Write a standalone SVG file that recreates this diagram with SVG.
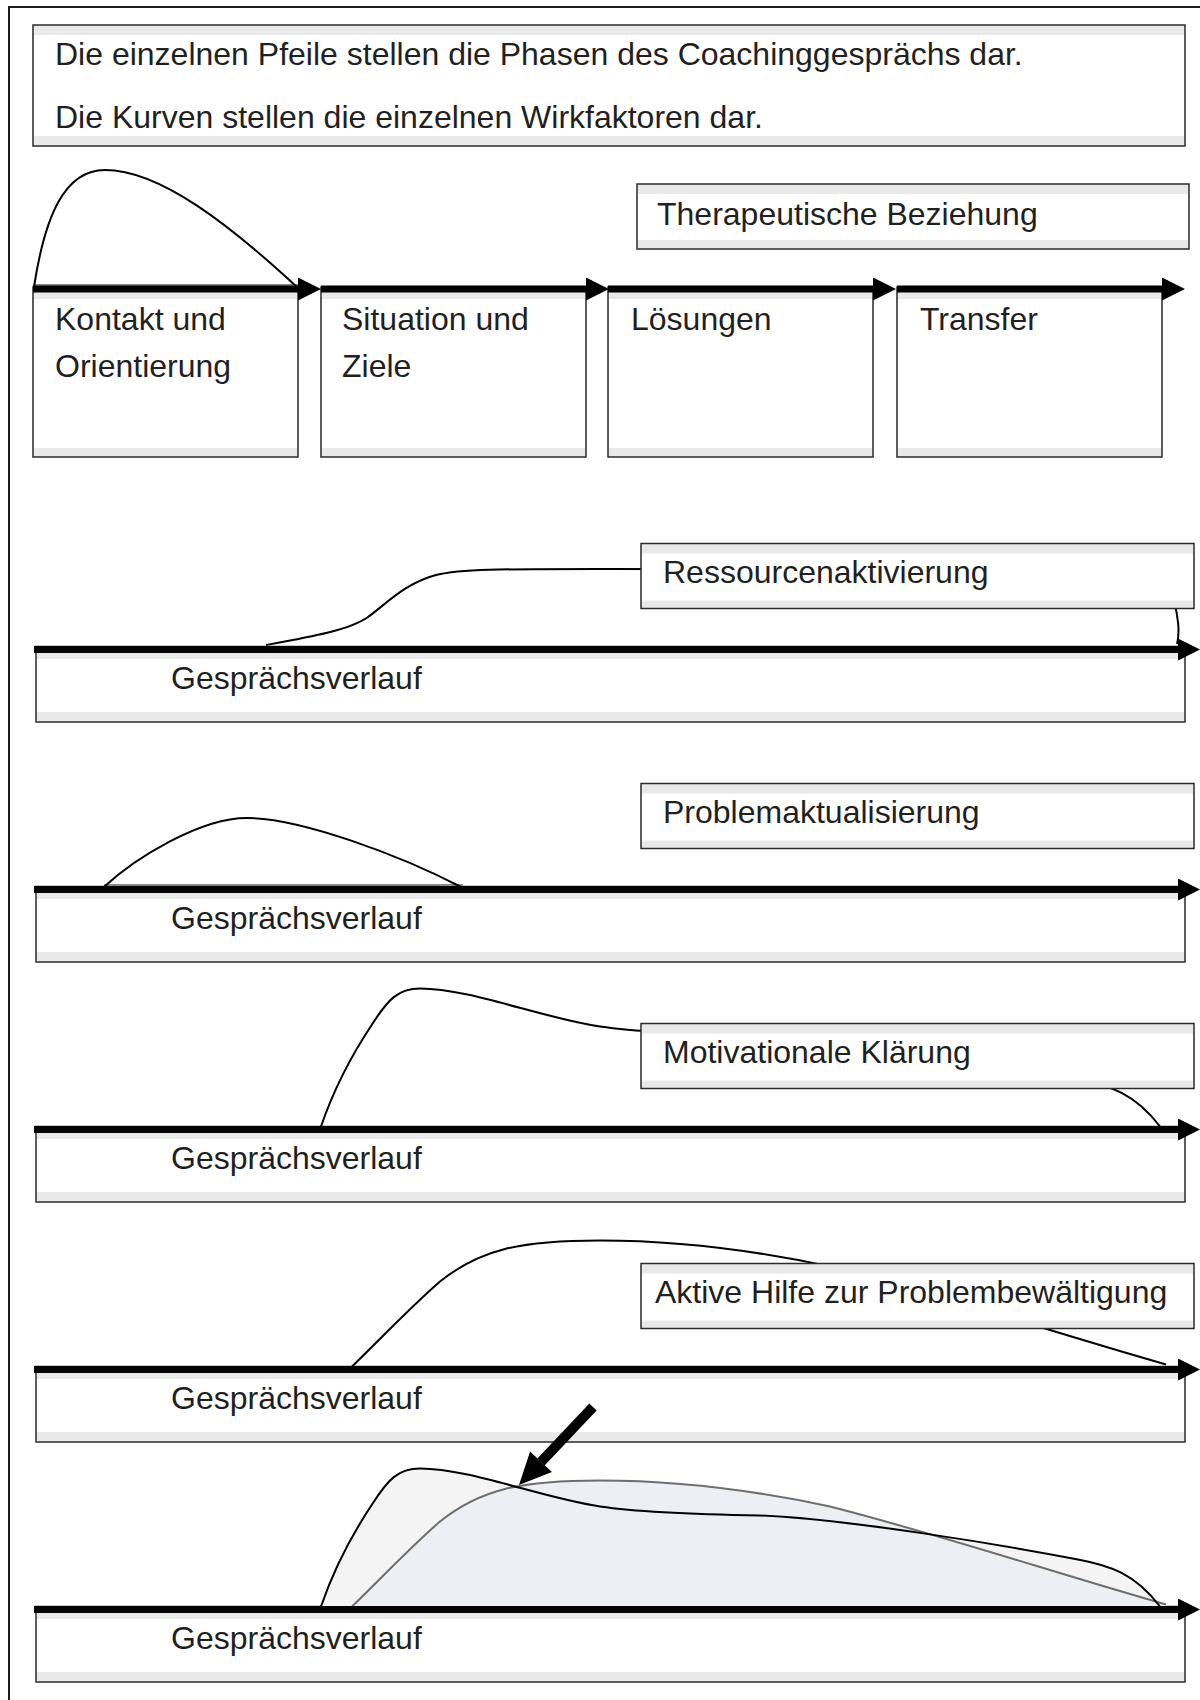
<svg xmlns="http://www.w3.org/2000/svg" width="1200" height="1700" viewBox="0 0 1200 1700">
  <style>
    text { font-family: "Liberation Sans", Arial, Helvetica, sans-serif; font-size: 32px; fill: #231f20; }
    .frame { fill: #e9e9e9; stroke: #2b2b2b; stroke-width: 1.5; }
    .face { fill: #ffffff; }
    .shaft { stroke: #000000; stroke-width: 7; fill: none; }
    .curve { fill: none; stroke: #000000; stroke-width: 2; }
    .curve-grey { fill: none; stroke: #6e6e6e; stroke-width: 2; }
    .seam { stroke: #8a8a8a; stroke-width: 2; }
  </style>
  <defs>
    <marker id="head-phase" markerUnits="userSpaceOnUse" markerWidth="23" markerHeight="23" refX="0" refY="11.5" viewBox="0 0 23 23" orient="auto">
      <path d="M0,0 L23,11.5 L0,23 Z" fill="#000000"/>
    </marker>
    <marker id="head-line" markerUnits="userSpaceOnUse" markerWidth="22" markerHeight="22" refX="0" refY="11" viewBox="0 0 22 22" orient="auto">
      <path d="M0,0 L22,11 L0,22 Z" fill="#000000"/>
    </marker>
    <!-- factor curves, drawn relative to the centre line of a timeline arrow -->
    <path id="curve-motiv" d="M321,-3 C333,-38 352,-75 372,-105 C388,-130 398,-141 420,-141 C470,-141 540,-112 600,-103 C640,-97 700,-95 760,-94 C850,-90 1000,-65 1078,-50 C1110,-44 1135,-36 1160,-3"/>
    <path id="curve-aktiv" d="M352,-3 C380,-30 410,-62 440,-88 C480,-120 520,-129 600,-129 C680,-129 760,-118 830,-103 C940,-75 1060,-35 1166,-5"/>
  </defs>

  <!-- outer frame -->
  <rect x="9" y="7" width="1260" height="1760" fill="none" stroke="#1a1a1a" stroke-width="2"/>

  <!-- legend -->
  <g id="legend">
    <rect class="frame" x="33" y="25" width="1152" height="121"/>
    <rect class="face" x="34" y="35" width="1150" height="101"/>
    <text x="55" y="65">Die einzelnen Pfeile stellen die Phasen des Coachinggesprächs dar.</text>
    <text x="55" y="128">Die Kurven stellen die einzelnen Wirkfaktoren dar.</text>
  </g>

  <!-- phases of the session -->
  <g id="phase-kontakt">
    <rect class="frame" x="33" y="287" width="265" height="170"/>
    <rect class="face" x="34" y="299" width="263" height="149"/>
    <text x="55" y="330">Kontakt und</text>
    <text x="55" y="377">Orientierung</text>
  </g>
  <g id="phase-situation">
    <rect class="frame" x="321" y="287" width="265" height="170"/>
    <rect class="face" x="322" y="299" width="263" height="149"/>
    <text x="342" y="330">Situation und</text>
    <text x="342" y="377">Ziele</text>
  </g>
  <g id="phase-loesungen">
    <rect class="frame" x="608" y="287" width="265" height="170"/>
    <rect class="face" x="609" y="299" width="263" height="149"/>
    <text x="631" y="330">Lösungen</text>
  </g>
  <g id="phase-transfer">
    <rect class="frame" x="897" y="287" width="265" height="170"/>
    <rect class="face" x="898" y="299" width="263" height="149"/>
    <text x="920" y="330">Transfer</text>
  </g>

  <!-- timelines -->
  <g id="timeline-1">
    <rect class="frame" x="36" y="646.5" width="1149" height="75.5"/>
    <rect class="face" x="37" y="659" width="1147" height="53"/>
    <text x="171" y="689">Gesprächsverlauf</text>
  </g>
  <g id="timeline-2">
    <rect class="frame" x="36" y="886.5" width="1149" height="75.5"/>
    <rect class="face" x="37" y="899" width="1147" height="53"/>
    <text x="171" y="929">Gesprächsverlauf</text>
  </g>
  <g id="timeline-3">
    <rect class="frame" x="36" y="1126.5" width="1149" height="75.5"/>
    <rect class="face" x="37" y="1139" width="1147" height="53"/>
    <text x="171" y="1169">Gesprächsverlauf</text>
  </g>
  <g id="timeline-4">
    <rect class="frame" x="36" y="1366.5" width="1149" height="75.5"/>
    <rect class="face" x="37" y="1379" width="1147" height="53"/>
    <text x="171" y="1409">Gesprächsverlauf</text>
  </g>
  <g id="timeline-5">
    <rect class="frame" x="36" y="1606.5" width="1149" height="75.5"/>
    <rect class="face" x="37" y="1619" width="1147" height="53"/>
    <text x="171" y="1649">Gesprächsverlauf</text>
  </g>

  <!-- connectors: factor curves and arrows -->
  <g id="connectors">
    <!-- Therapeutische Beziehung -->
    <line class="seam" x1="34" y1="285" x2="298" y2="285"/>
    <path class="curve" d="M34,287 C45,215 65,170 105,170 C160,170 230,225 298,288"/>

    <!-- Ressourcenaktivierung -->
    <path class="curve" d="M266,645 C310,637 350,630 368,617 C385,605 405,583 436,575 C460,569 500,569 600,569 L1150,570 C1170,575 1183,620 1177,644"/>

    <!-- Problemaktualisierung -->
    <line class="seam" x1="104" y1="885" x2="463" y2="885"/>
    <path class="curve" d="M104,887 C135,858 200,818 247,818 C300,818 400,855 463,888"/>

    <!-- Motivationale Klärung -->
    <use href="#curve-motiv" class="curve" transform="translate(0,1129.5)"/>

    <!-- Aktive Hilfe zur Problembewältigung -->
    <use href="#curve-aktiv" class="curve" transform="translate(0,1369.5)"/>

    <!-- combined view -->
    <g transform="translate(0,1609.5)">
      <path fill="#f4f4f4" d="M321,-3 C333,-38 352,-75 372,-105 C388,-130 398,-141 420,-141 C470,-141 540,-112 600,-103 C640,-97 700,-95 760,-94 C850,-90 1000,-65 1078,-50 C1110,-44 1135,-36 1160,-3 Z"/>
      <path fill="#eceff3" d="M352,-3 C380,-30 410,-62 440,-88 C480,-120 520,-129 600,-129 C680,-129 760,-118 830,-103 C940,-75 1060,-35 1166,-5 L1166,-3 Z"/>
      <use href="#curve-aktiv" class="curve-grey"/>
      <use href="#curve-motiv" class="curve"/>
    </g>

    <!-- phase arrows -->
    <line class="shaft" x1="33" y1="289" x2="298" y2="289" marker-end="url(#head-phase)"/>
    <line class="shaft" x1="321" y1="289" x2="586" y2="289" marker-end="url(#head-phase)"/>
    <line class="shaft" x1="608" y1="289" x2="873" y2="289" marker-end="url(#head-phase)"/>
    <line class="shaft" x1="897" y1="289" x2="1162" y2="289" marker-end="url(#head-phase)"/>

    <!-- timeline arrows -->
    <line class="shaft" x1="34" y1="649.5" x2="1178" y2="649.5" marker-end="url(#head-line)"/>
    <line class="shaft" x1="34" y1="889.5" x2="1178" y2="889.5" marker-end="url(#head-line)"/>
    <line class="shaft" x1="34" y1="1129.5" x2="1178" y2="1129.5" marker-end="url(#head-line)"/>
    <line class="shaft" x1="34" y1="1369.5" x2="1178" y2="1369.5" marker-end="url(#head-line)"/>
    <line class="shaft" x1="34" y1="1609.5" x2="1178" y2="1609.5" marker-end="url(#head-line)"/>

    <!-- pointer to the crossing of the curves -->
    <line x1="593" y1="1407" x2="541" y2="1462" stroke="#000000" stroke-width="10"/>
    <polygon points="519,1485 551.9,1472.1 530.1,1451.5" fill="#000000"/>
  </g>

  <!-- factor labels -->
  <g id="label-beziehung">
    <rect class="frame" x="637" y="184" width="552" height="65"/>
    <rect class="face" x="638" y="194" width="550" height="46"/>
    <text x="657" y="225">Therapeutische Beziehung</text>
  </g>
  <g id="label-ressourcen">
    <rect class="frame" x="641" y="543.5" width="553" height="65"/>
    <rect class="face" x="642" y="553.5" width="551" height="47"/>
    <text x="663" y="583">Ressourcenaktivierung</text>
  </g>
  <g id="label-problem">
    <rect class="frame" x="641" y="783.5" width="553" height="65"/>
    <rect class="face" x="642" y="793.5" width="551" height="47"/>
    <text x="663" y="823">Problemaktualisierung</text>
  </g>
  <g id="label-motivation">
    <rect class="frame" x="641" y="1023.5" width="553" height="65"/>
    <rect class="face" x="642" y="1033.5" width="551" height="47"/>
    <text x="663" y="1063">Motivationale Klärung</text>
  </g>
  <g id="label-hilfe">
    <rect class="frame" x="641" y="1263.5" width="553" height="65"/>
    <rect class="face" x="642" y="1273.5" width="551" height="47"/>
    <text x="655" y="1303">Aktive Hilfe zur Problembewältigung</text>
  </g>
</svg>
